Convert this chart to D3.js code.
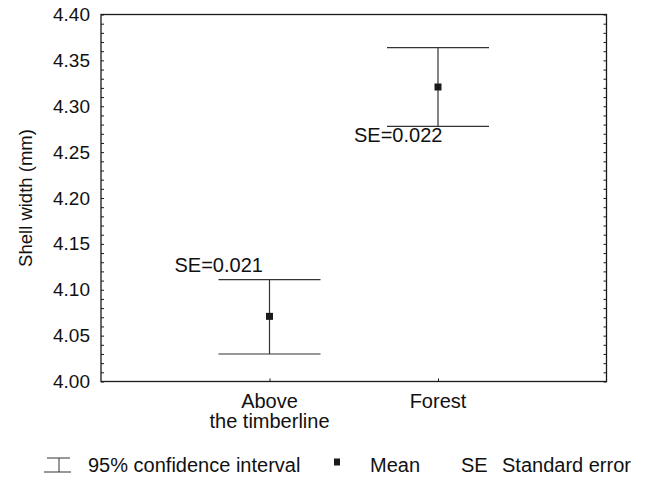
<!DOCTYPE html>
<html>
<head>
<meta charset="utf-8">
<script src="https://cdn.jsdelivr.net/npm/d3@7"></script>
<style>
  html, body { margin: 0; padding: 0; background: #fff; }
  svg { display: block; }
  text { font-family: "Liberation Sans", Arial, Helvetica, sans-serif; fill: #111; }
</style>
</head>
<body>
<svg id="chart" width="649" height="477"></svg>
<script>
// ---- data ----
const categories = ["Above\nthe timberline", "Forest"];
const means = [4.071, 4.321];
const lower95 = [4.030, 4.278];
const upper95 = [4.111, 4.364];
const seLabels = ["SE=0.021", "SE=0.022"];
const yTicks = [4.00, 4.05, 4.10, 4.15, 4.20, 4.25, 4.30, 4.35, 4.40];
const legendItems = ["95% confidence interval", "Mean", "Standard error"];

// ---- layout ----
const W = 649, H = 477;
const margin = { left: 101, top: 14.5, right: 649 - 606.5, bottom: 477 - 381.5 };
const fs = 20, fsTick = 19, fsTitle = 18.5;
const ink = "#1a1a1a";

const svg = d3.select("#chart");
const x = d3.scalePoint().domain(categories).range([margin.left, W - margin.right]).padding(1);
const y = d3.scaleLinear().domain([4.0, 4.4]).range([H - margin.bottom, margin.top]);

const minor = d3.range(0, 41).map(i => 4.0 + i * 0.01);
const g = svg.append("g");

// left axis with labels
const leftAxis = d3.axisLeft(y).tickValues(yTicks).tickFormat(d3.format(".2f")).tickSize(0).tickPadding(11);
const la = g.append("g").attr("transform", `translate(${margin.left},0)`).call(leftAxis);
la.select(".domain").remove();
la.selectAll("text").attr("font-size", fsTick).style("font-family", "Liberation Sans, Arial, sans-serif").attr("fill", "#111");

// minor tick marks inside
const minorL = d3.axisRight(y).tickValues(minor).tickSize(3).tickFormat("");
g.append("g").attr("transform", `translate(${margin.left},0)`).call(minorL)
  .call(s => s.select(".domain").remove())
  .selectAll("line").attr("stroke", ink).attr("stroke-width", 1);
const minorR = d3.axisLeft(y).tickValues(minor).tickSize(3).tickFormat("");
g.append("g").attr("transform", `translate(${W - margin.right},0)`).call(minorR)
  .call(s => s.select(".domain").remove())
  .selectAll("line").attr("stroke", ink).attr("stroke-width", 1);

// bottom axis ticks (inside)
const bottomAxis = d3.axisTop(x).tickSize(3).tickFormat("");
g.append("g").attr("transform", `translate(0,${H - margin.bottom})`).call(bottomAxis)
  .call(s => s.select(".domain").remove())
  .selectAll("line").attr("stroke", ink);

// category labels
categories.forEach(c => {
  const lines = c.split("\n");
  const t = g.append("text").attr("x", x(c)).attr("y", 408).attr("text-anchor", "middle").attr("font-size", fs);
  lines.forEach((l, i) => t.append("tspan").attr("x", x(c)).attr("dy", i === 0 ? 0 : 20).text(l));
});

// frame
g.append("rect")
  .attr("x", margin.left).attr("y", margin.top)
  .attr("width", W - margin.left - margin.right)
  .attr("height", H - margin.top - margin.bottom)
  .attr("fill", "none").attr("stroke", ink).attr("stroke-width", 1.3);

// y axis title
g.append("text")
  .attr("transform", `translate(32,${(margin.top + H - margin.bottom) / 2}) rotate(-90)`)
  .attr("text-anchor", "middle").attr("font-size", fsTitle)
  .text("Shell width (mm)");

// error bars
const capHalf = 51;
const bars = g.append("g");
categories.forEach((c, i) => {
  const cx = x(c);
  bars.append("line").attr("x1", cx).attr("x2", cx).attr("y1", y(lower95[i])).attr("y2", y(upper95[i]))
    .attr("stroke", "#333").attr("stroke-width", 1.2);
  [lower95[i], upper95[i]].forEach(v => {
    bars.append("line").attr("x1", cx - capHalf).attr("x2", cx + capHalf).attr("y1", y(v)).attr("y2", y(v))
      .attr("stroke", "#333").attr("stroke-width", 1.2);
  });
  bars.append("rect").attr("x", cx - 3.5).attr("y", y(means[i]) - 3.5).attr("width", 7).attr("height", 7)
    .attr("fill", "#1a1a1a");
});

// SE labels: first above upper cap, second below lower cap
g.append("text").attr("x", x(categories[0]) - capHalf - 44).attr("y", y(upper95[0]) - 8)
  .attr("font-size", fs).text(seLabels[0]);
g.append("text").attr("x", x(categories[1]) - capHalf - 33).attr("y", y(lower95[1]) + 16)
  .attr("font-size", fs).text(seLabels[1]);

// legend
const ly = 472;
const leg = g.append("g");
leg.append("line").attr("x1", 47).attr("x2", 70).attr("y1", 458).attr("y2", 458).attr("stroke", "#333");
leg.append("line").attr("x1", 44).attr("x2", 71).attr("y1", 472).attr("y2", 472).attr("stroke", "#333");
leg.append("line").attr("x1", 59).attr("x2", 59).attr("y1", 458).attr("y2", 472).attr("stroke", "#333");
leg.append("text").attr("x", 88).attr("y", ly).attr("font-size", fs).text(legendItems[0]);
leg.append("rect").attr("x", 337 - 3).attr("y", 462 - 3.5).attr("width", 6).attr("height", 7).attr("fill", "#1a1a1a");
leg.append("text").attr("x", 370).attr("y", ly).attr("font-size", fs).text(legendItems[1]);
leg.append("text").attr("x", 461).attr("y", ly).attr("font-size", fs).text("SE");
leg.append("text").attr("x", 502).attr("y", ly).attr("font-size", fs).text(legendItems[2]);
</script>
</body>
</html>
